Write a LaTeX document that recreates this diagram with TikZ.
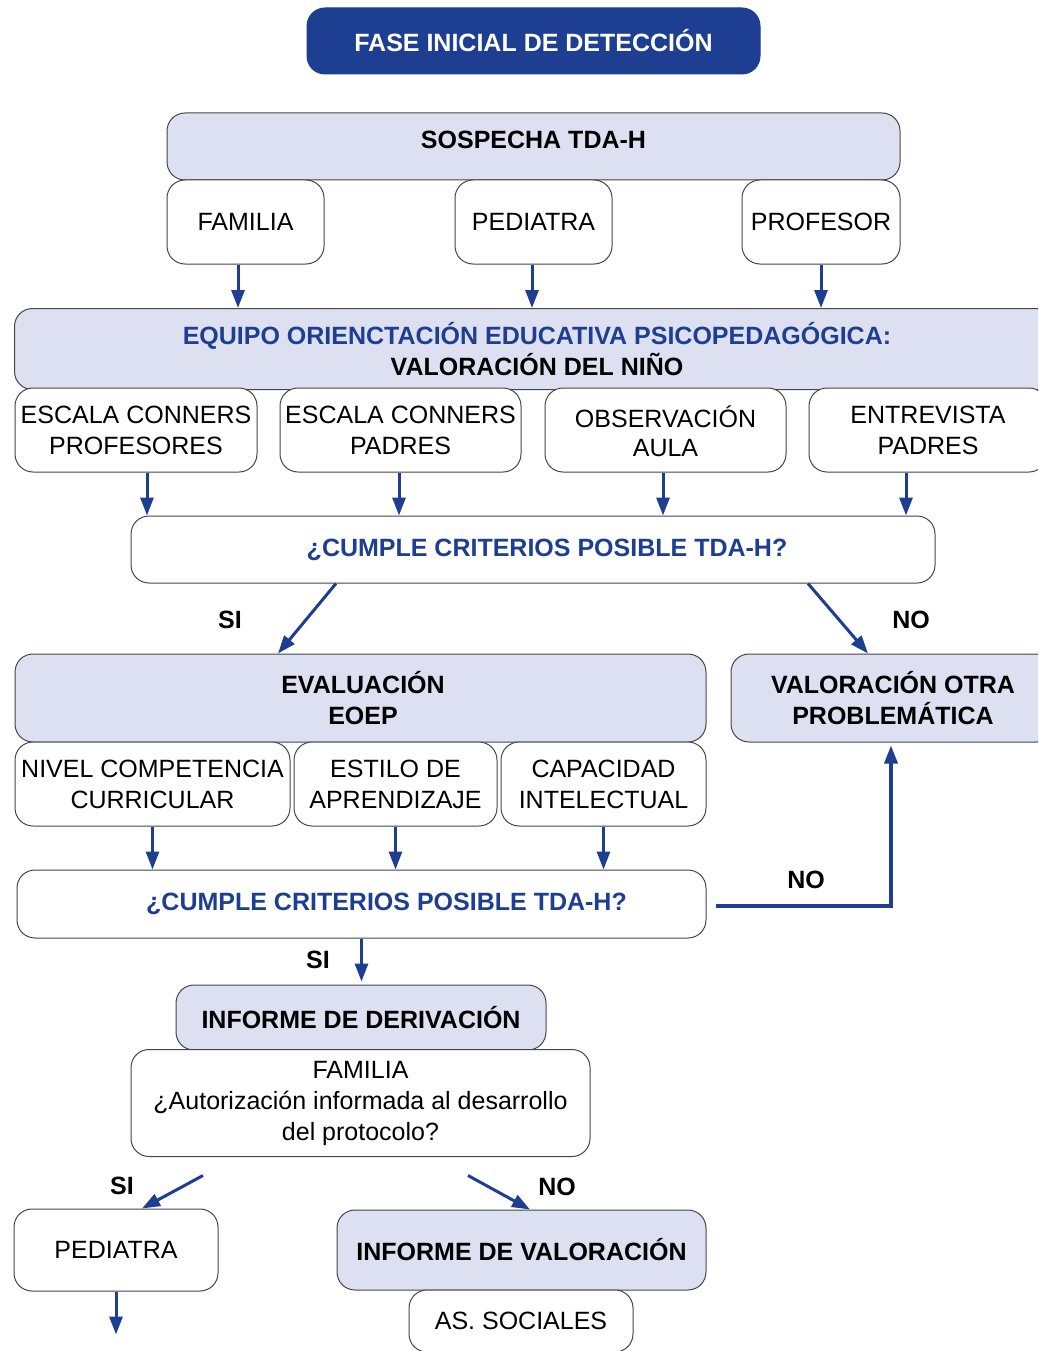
\documentclass[tikz,border=0pt]{standalone}
\usepackage{fontspec}
\setmainfont{Liberation Sans}
\usetikzlibrary{arrows.meta,calc}
\definecolor{dblue}{RGB}{30,62,145}
\definecolor{lav}{RGB}{221,224,240}
\definecolor{bord}{RGB}{70,70,70}
\tikzset{
  sz/.style 2 args={minimum width=#1pt, minimum height=#2pt},
  box/.style={draw=bord, line width=1pt, rounded corners=18pt, fill=white, inner sep=0pt,
              align=center, font=\fontsize{25}{31}\selectfont},
  hbox/.style={box, fill=lav, font=\fontsize{25}{31}\selectfont\bfseries},
  arr/.style={draw=dblue, line width=3pt, -{Triangle[length=18pt,width=13pt]}},
  lbl/.style={font=\fontsize{25}{31}\selectfont\bfseries, inner sep=0pt},
  qtext/.style={text=dblue, font=\fontsize{25}{31}\selectfont\bfseries},
}
\begin{document}
\begin{tikzpicture}[x=1pt,y=-1pt]
\useasboundingbox (0,0) rectangle (1038,1351);
\fill[white] (0,0) rectangle (1038,1351);
\clip (0,0) rectangle (1038,1351);

% title
\node[box, sz={453}{66}, fill=dblue, draw=dblue, text=white, font=\fontsize{25}{31}\selectfont\bfseries]
  (fase) at (533.5,41) {FASE INICIAL DE DETECCIÓN};

% sospecha
\node[hbox, sz={733}{67}] (sosp) at (533.5,146.5) {\raisebox{7pt}[\height][\depth]{SOSPECHA TDA-H}};
\node[box, sz={157}{84}] (fam) at (245.5,222) {FAMILIA};
\node[box, sz={157}{84}] (ped) at (533.5,222) {PEDIATRA};
\node[box, sz={158}{84}] (prof) at (821,222) {PROFESOR};

% equipo
\node[hbox, sz={1045}{81}] (eq) at (537,349)
  {{\color{dblue}EQUIPO ORIENCTACIÓN EDUCATIVA PSICOPEDAGÓGICA:}\\VALORACIÓN DEL NIÑO};
\node[box, sz={242}{84}] (e1) at (136,430) {ESCALA CONNERS\\PROFESORES};
\node[box, sz={241}{84}] (e2) at (400.5,430) {ESCALA CONNERS\\PADRES};
\node[box, sz={241}{84}] (e3) at (665.5,430) {\raisebox{-2pt}[\height][\depth]{OBSERVACIÓN}\\AULA};
\node[box, sz={238}{84}] (e4) at (928,430) {ENTREVISTA\\PADRES};

\draw[arr] ([xshift=-7.5pt]fam.south) -- ([xshift=-7.5pt]fam.south |- eq.north);
\draw[arr] ([xshift=-1.5pt]ped.south) -- ([xshift=-1.5pt]ped.south |- eq.north);
\draw[arr] (prof.south) -- (prof.south |- eq.north);

% cumple 1
\node[box, sz={804}{67}, qtext] (c1) at (533,549.5) {\hspace*{28pt}¿CUMPLE CRITERIOS POSIBLE TDA-H?};
\draw[arr] ([xshift=11pt]e1.south) -- ([xshift=11pt]e1.south |- c1.north);
\draw[arr] ([xshift=-1.5pt]e2.south) -- ([xshift=-1.5pt]e2.south |- c1.north);
\draw[arr] ([xshift=-2.5pt]e3.south) -- ([xshift=-2.5pt]e3.south |- c1.north);
\draw[arr] ([xshift=-22pt]e4.south) -- ([xshift=-22pt]e4.south |- c1.north);

% evaluation
\node[hbox, sz={691}{88}] (eval) at (360.5,698) {\hspace*{5pt}EVALUACIÓN\\\hspace*{5pt}EOEP};
\node[hbox, sz={324}{88}] (valor) at (893,698) {VALORACIÓN OTRA\\PROBLEMÁTICA};
\node[box, sz={275}{84}] (n1) at (152.5,784) {NIVEL COMPETENCIA\\CURRICULAR};
\node[box, sz={203}{84}] (n2) at (395.5,784) {ESTILO DE\\APRENDIZAJE};
\node[box, sz={205}{84}] (n3) at (603.5,784) {CAPACIDAD\\INTELECTUAL};

\node[lbl] (si1) at (230,620) {SI};
\node[lbl] (no1) at (911,620) {NO};
\draw[arr] ([xshift=-197pt]c1.south) -- ([xshift=-82.5pt]eval.north);
\draw[arr] ([xshift=275pt]c1.south) -- ([xshift=-25pt]valor.north);

% cumple 2
\node[box, sz={689}{68}, qtext] (c2) at (361.5,904) {\hspace*{50pt}¿CUMPLE CRITERIOS POSIBLE TDA-H?};
\draw[arr] (n1.south) -- (n1.south |- c2.north);
\draw[arr] (n2.south) -- (n2.south |- c2.north);
\draw[arr] (n3.south) -- (n3.south |- c2.north);

\node[lbl] (no2) at (806,880) {NO};
\draw[arr, line width=3.5pt] ([xshift=9pt,yshift=-2pt]c2.east) -| ([xshift=-2pt,yshift=-3pt]valor.south);

% derivacion
\node[hbox, sz={370}{65}] (der) at (361,1017.5) {INFORME DE DERIVACIÓN};
\node[box, sz={459}{107}] (fam2) at (360.5,1103)
  {FAMILIA\\¿Autorización informada al desarrollo\\del protocolo?};
\node[lbl] (si2) at (318,960) {SI};
\draw[arr] (c2.south) -- ([yshift=3pt]c2.south |- der.north);

% final row
\node[box, sz={204}{82}] (ped2) at (116,1250) {PEDIATRA};
\node[hbox, sz={369}{80}] (iv) at (521.5,1250) {INFORME DE VALORACIÓN};
\node[box, sz={224}{62}] (as) at (521,1321) {AS. SOCIALES};

\node[lbl] (si3) at (122,1186) {SI};
\node[lbl] (no3) at (557,1187) {NO};
\coordinate (s1) at ([xshift=-157.5pt,yshift=-18.5pt]fam2.south);
\coordinate (s2) at ([xshift=107.5pt,yshift=-18.5pt]fam2.south);
\draw[arr] (s1) -- ([xshift=26pt]ped2.north);
\draw[arr] (s2) -- ([xshift=8.5pt]iv.north);
\coordinate (pend) at ([yshift=-43pt]ped2.south);
\draw[arr] (ped2.south) -- (pend);
\end{tikzpicture}
\end{document}
